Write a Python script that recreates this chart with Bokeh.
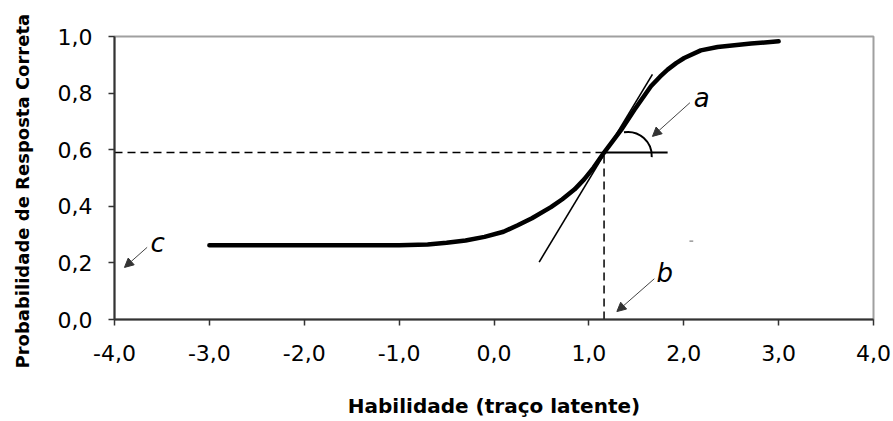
import math
from bokeh.plotting import figure
from bokeh.models import Range1d, CustomJSTickFormatter, FixedTicker, Label, Arrow, NormalHead
from bokeh.embed import file_html
from bokeh.resources import INLINE

# ---- data ----
curve_x = [-3.0, -1.0, -0.7, -0.5, -0.3, -0.1, 0.1, 0.25, 0.4, 0.6, 0.72, 0.85, 0.95, 1.05, 1.16,
           1.34, 1.48, 1.654, 1.75, 1.83, 1.92, 2.005, 2.18, 2.357, 2.71, 3.0]
curve_y = [0.262, 0.262, 0.265, 0.271, 0.279, 0.292, 0.31, 0.333, 0.358, 0.397, 0.425, 0.46, 0.495, 0.537, 0.59,
           0.67, 0.741, 0.824, 0.858, 0.883, 0.906, 0.924, 0.951, 0.963, 0.975, 0.983]

b_value = 1.16          # difficulty
p_at_b = 0.59           # probability at b
tangent_x = [0.476, 1.67]
tangent_y = [0.203, 0.866]
horiz_end_x = 1.83
arc_center = (1.41, 0.578)

x_ticks = [-4, -3, -2, -1, 0, 1, 2, 3, 4]
y_ticks = [0.0, 0.2, 0.4, 0.6, 0.8, 1.0]

ann_labels = ["a", "b", "c"]
ann_label_x = [2.19, 1.80, -3.546]
ann_label_y = [0.784, 0.163, 0.270]
arrow_x0 = [2.065, 1.69, -3.656]
arrow_y0 = [0.766, 0.144, 0.255]
arrow_x1 = [1.67, 1.295, -3.895]
arrow_y1 = [0.647, 0.028, 0.184]

FONT = "DejaVu Sans"

p = figure(width=893, height=421, output_backend="svg", toolbar_location=None,
           x_range=Range1d(-4, 4), y_range=Range1d(0, 1),
           min_border_left=114, min_border_right=20, min_border_top=36, min_border_bottom=102)
p.background_fill_color = "white"
p.border_fill_color = "white"
p.outline_line_color = "#a0a0a0"
p.outline_line_width = 2
p.xgrid.visible = False
p.ygrid.visible = False

fmt = CustomJSTickFormatter(code="return tick.toFixed(1).replace('.', ',');")
for ax, ticks in ((p.xaxis[0], x_ticks), (p.yaxis[0], y_ticks)):
    ax.ticker = FixedTicker(ticks=ticks)
    ax.formatter = fmt
    ax.axis_line_color = "#333333"
    ax.axis_line_width = 2
    ax.major_tick_line_color = "#333333"
    ax.major_tick_line_width = 1.5
    ax.major_tick_out = 6
    ax.major_tick_in = 0
    ax.minor_tick_line_color = None
    ax.major_label_text_font = FONT
    ax.major_label_text_font_size = "22px"
    ax.major_label_text_color = "black"
    ax.axis_label_text_font = FONT
    ax.axis_label_text_font_style = "bold"
    ax.axis_label_text_color = "black"

p.xaxis.axis_label = "Habilidade (traço latente)"
p.xaxis.axis_label_text_font_size = "20px"
p.xaxis.major_label_standoff = 19
p.xaxis.axis_label_standoff = 30
p.yaxis.major_label_standoff = 16

# vertical y-axis title placed in the left side panel (screen px)
ylab = Label(x=-11, y=-49, x_units="screen", y_units="screen",
             text="Probabilidade de Resposta Correta", angle=math.pi / 2,
             text_font=FONT, text_font_style="bold", text_font_size="18px",
             text_align="left", text_baseline="middle", text_color="black")
p.add_layout(ylab, "left")

# dashed guide lines
p.line([-4, b_value], [p_at_b, p_at_b], line_color="black", line_width=1.5, line_dash="8 5")
p.line([b_value, b_value], [0, p_at_b], line_color="black", line_width=1.5, line_dash="8 5")

# tangent and horizontal reference
p.line(tangent_x, tangent_y, line_color="black", line_width=1.6)
p.line([b_value, horiz_end_x], [p_at_b, p_at_b], line_color="black", line_width=2)
p.arc(x=[arc_center[0]], y=[arc_center[1]], radius=24, radius_units="screen",
      start_angle=-0.05, end_angle=1.73, direction="anticlock", line_color="black", line_width=2)

# the ICC curve
p.line(curve_x, curve_y, line_color="black", line_width=4.5, line_cap="round", line_join="round")

# small stray mark
p.line([2.06, 2.10], [0.277, 0.277], line_color="#666666", line_width=1)

# annotations
for t, lx, ly in zip(ann_labels, ann_label_x, ann_label_y):
    p.add_layout(Label(x=lx, y=ly, text=t, text_font=FONT, text_font_style="italic",
                       text_font_size="26px", text_align="center", text_baseline="alphabetic",
                       text_color="black"))
for x0, y0, x1, y1 in zip(arrow_x0, arrow_y0, arrow_x1, arrow_y1):
    p.add_layout(Arrow(x_start=x0, y_start=y0, x_end=x1, y_end=y1,
                       line_color="#444444", line_width=1,
                       end=NormalHead(size=9, fill_color="#333333", line_color="#333333", line_width=1)))

open("out.html", "w").write(file_html(p, INLINE))
